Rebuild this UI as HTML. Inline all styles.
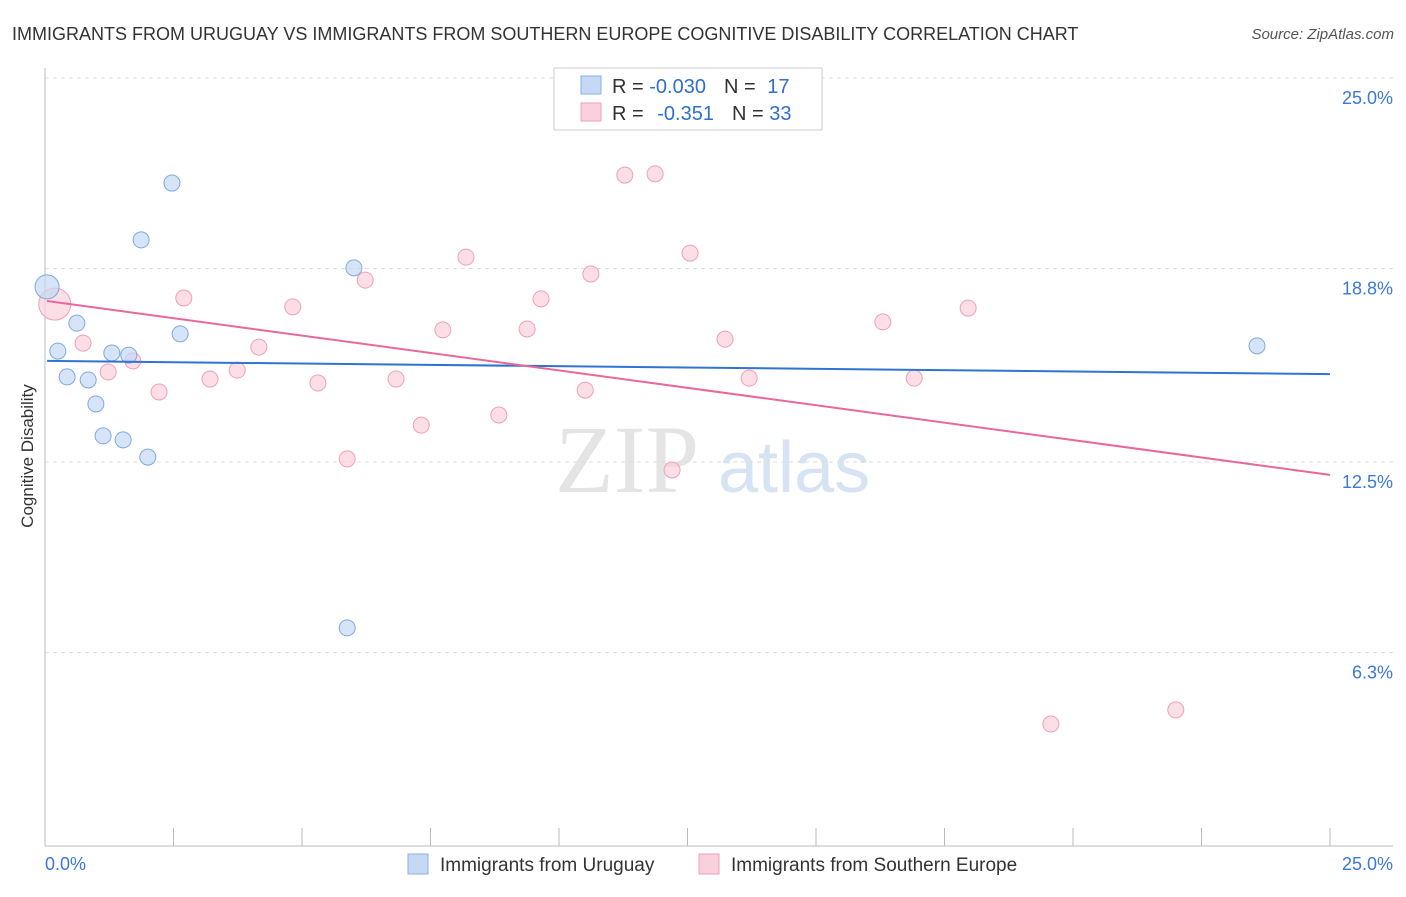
<!DOCTYPE html>
<html><head><meta charset="utf-8"><style>
body{margin:0;background:#fff;font-family:"Liberation Sans",sans-serif}
</style></head><body>
<svg id="c" width="1406" height="892" xmlns="http://www.w3.org/2000/svg">
<text x="12" y="40" font-size="18" fill="#333">IMMIGRANTS FROM URUGUAY VS IMMIGRANTS FROM SOUTHERN EUROPE COGNITIVE DISABILITY CORRELATION CHART</text>
<text x="1394" y="39" font-size="15" fill="#555" font-style="italic" text-anchor="end">Source: ZipAtlas.com</text>
<text x="33" y="456" font-size="17" fill="#333" text-anchor="middle" transform="rotate(-90 33 456)">Cognitive Disability</text>
<text x="555" y="492" font-size="96" fill="#e4e4e4" font-family="Liberation Serif">ZIP</text>
<text x="718" y="492" font-size="72" fill="#d6e3f3">atlas</text>
<g id="grid"></g><g id="marks"></g>
<g>
<rect x="554" y="68" width="268" height="62" fill="#fff" stroke="#ccc"/>
<rect x="581" y="76" width="20" height="18" fill="#c5d9f5" stroke="#8ab0e6"/>
<text x="612" y="93" font-size="20" fill="#333">R = <tspan fill="#2f6fd0">-0.030</tspan><tspan dx="18">N = </tspan><tspan fill="#2f6fd0" dx="6">17</tspan></text>
<rect x="581" y="103" width="20" height="18" fill="#fad0dc" stroke="#f0a0b8"/>
<text x="612" y="120" font-size="20" fill="#333">R = <tspan fill="#2f6fd0" dx="8">-0.351</tspan><tspan dx="18">N = </tspan><tspan fill="#2f6fd0">33</tspan></text>
</g>
<g>
<rect x="408" y="854" width="20" height="20" fill="#c5d9f5" stroke="#8ab0e6"/>
<text x="440" y="871" font-size="19" fill="#333">Immigrants from Uruguay</text>
<rect x="699" y="854" width="20" height="20" fill="#fad0dc" stroke="#f0a0b8"/>
<text x="731" y="871" font-size="19" fill="#333">Immigrants from Southern Europe</text>
</g>
</svg>
<script>
const yTicks=[25.0,18.8,12.5,6.3];
const yTickLabels=["25.0%","18.8%","12.5%","6.3%"];
const xTickLabels=["0.0%","25.0%"];
const blueX=[0.04,0.25,0.43,0.62,0.84,0.99,1.13,1.30,1.52,1.63,1.87,2.00,2.47,2.63,5.88,6.01,23.58];
const blueY=[18.20,16.11,15.27,17.02,15.17,14.39,13.35,16.05,13.22,15.98,19.73,12.66,21.58,16.67,7.10,18.82,16.28];
const pinkX=[0.19,0.74,1.23,1.71,2.22,2.70,3.21,3.74,4.16,4.82,5.31,5.88,6.23,6.83,7.32,7.74,8.19,8.83,9.38,9.65,10.51,10.62,11.28,11.87,12.20,12.55,13.23,13.70,16.30,16.91,17.96,19.57,22.00];
const pinkY=[17.64,16.37,15.43,15.79,14.78,17.84,15.20,15.49,16.24,17.55,15.07,12.60,18.42,15.20,13.70,16.80,19.17,14.03,16.83,17.81,14.84,18.62,21.84,21.88,12.24,19.30,16.50,15.23,17.06,15.23,17.51,3.97,4.43];
const blueLine=[15.79,15.36];
const pinkLine=[17.74,12.08];
const NS="http://www.w3.org/2000/svg";
const sx=v=>45+v*51.4, sy=v=>846-v*30.72;
function mk(t,a,p){const e=document.createElementNS(NS,t);for(const k in a)e.setAttribute(k,a[k]);p.appendChild(e);return e;}
const g=document.getElementById('grid'),m=document.getElementById('marks');
yTicks.forEach((v,i)=>{
 const l=mk('line',{x1:45,x2:1393,y1:sy(v),y2:sy(v),stroke:'#ddd','stroke-dasharray':'4,4'},g);
 
 
 const t=mk('text',{x:1393,y:sy(v)+26,'font-size':18,fill:'#3b78d8','text-anchor':'end'},g);
 t.textContent=yTickLabels[i];
 
 
});
const ax=mk('line',{x1:45,x2:45,y1:68,y2:846,stroke:'#bbb'},g);


const bx=mk('line',{x1:45,x2:1393,y1:846,y2:846,stroke:'#bbb'},g);


for(let i=0;i<=10;i++){const t=mk('line',{x1:sx(i*2.5),x2:sx(i*2.5),y1:828,y2:846,stroke:'#bbb'},g);
 
 }
[[0,'start',45],[25,'end',1393]].forEach((d,i)=>{const t=mk('text',{x:d[2],y:870,'font-size':18,fill:'#3b78d8','text-anchor':d[1]},g);t.textContent=xTickLabels[i];
 
 });
function pts(X,Y,fill,stroke,name,bigR){X.forEach((x,i)=>{const c=mk('circle',{cx:sx(x),cy:sy(Y[i]),r:i===0?bigR:8,fill:fill,'fill-opacity':0.7,stroke:stroke,'stroke-width':1},m);
 
 });}
pts(pinkX,pinkY,'#fad0dc','#f0a0b8','southern-europe-point',16);
pts(blueX,blueY,'#c5d9f5','#7fa8e0','uruguay-point',12);
const bl=mk('line',{x1:sx(0.04),x2:sx(25),y1:sy(blueLine[0]),y2:sy(blueLine[1]),stroke:'#2f74d0','stroke-width':2},m);


const pl=mk('line',{x1:sx(0.04),x2:sx(25),y1:sy(pinkLine[0]),y2:sy(pinkLine[1]),stroke:'#e8689a','stroke-width':2},m);


</script>
</body></html>
